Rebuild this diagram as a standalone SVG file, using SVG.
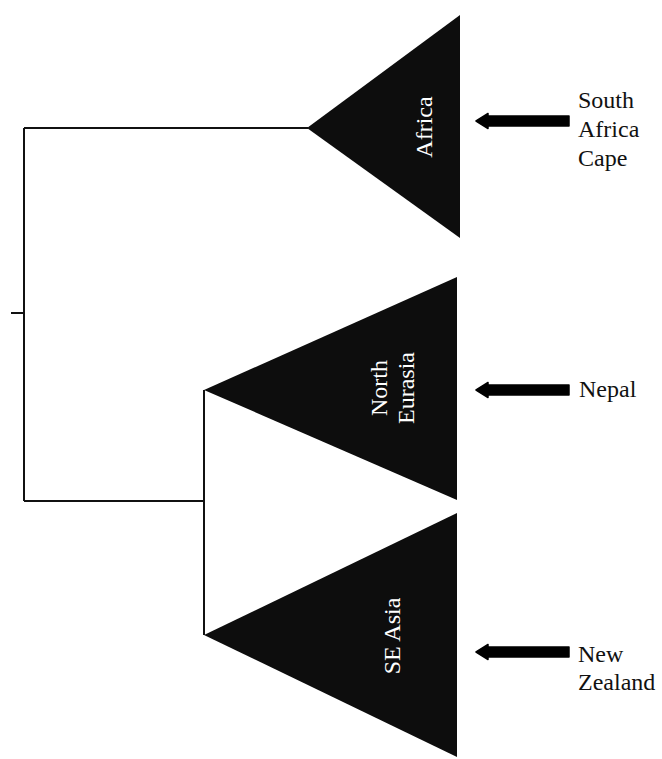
<svg xmlns="http://www.w3.org/2000/svg" width="662" height="759" viewBox="0 0 662 759">
<defs>
<style>
.edge{fill:none;stroke:#111;stroke-width:2}
.clade{fill:#0d0d0d}
.inner{font-family:"Liberation Serif","Times New Roman",serif;font-size:24px;fill:#fff;text-anchor:middle}
.lbl{font-family:"Liberation Serif","Times New Roman",serif;font-size:24px;fill:#111}
.arrow{fill:#000;stroke:#000;stroke-width:1.5;stroke-linejoin:round}
</style>
</defs>
<rect width="662" height="759" fill="#fff"/>
<g id="connectors">
<path class="edge" d="M11,313 H24 M24,128 V501 M24,128 H308 M24,501 H204 M204,390 V635"/>
</g>
<g id="africa">
<polygon class="clade" points="307,128 460,15 460,238"/>
<text class="inner" font-family="Liberation Serif, serif" transform="translate(432,127) rotate(-90)">Africa</text>
</g>
<g id="north-eurasia">
<polygon class="clade" points="204,390 457,277 457,500"/>
<text class="inner" font-family="Liberation Serif, serif" transform="translate(387,388) rotate(-90)">North</text>
<text class="inner" font-family="Liberation Serif, serif" transform="translate(414,388) rotate(-90)">Eurasia</text>
</g>
<g id="se-asia">
<polygon class="clade" points="204,635 457,513 457,757"/>
<text class="inner" font-family="Liberation Serif, serif" transform="translate(400,636) rotate(-90)">SE Asia</text>
</g>
<g id="arrow-sa">
<path class="arrow" d="M476,121 L488,113.5 V116 H569 V126 H488 V128.5 Z"/>
<text class="lbl" font-family="Liberation Serif, serif" x="578" y="108">South</text>
<text class="lbl" font-family="Liberation Serif, serif" x="578" y="137">Africa</text>
<text class="lbl" font-family="Liberation Serif, serif" x="578" y="166">Cape</text>
</g>
<g id="arrow-nepal">
<path class="arrow" d="M476,390 L488,382.5 V385 H569 V395 H488 V397.5 Z"/>
<text class="lbl" font-family="Liberation Serif, serif" x="579" y="397">Nepal</text>
</g>
<g id="arrow-nz">
<path class="arrow" d="M476,652 L488,644.5 V647 H569 V657 H488 V659.5 Z"/>
<text class="lbl" font-family="Liberation Serif, serif" x="578" y="662">New</text>
<text class="lbl" font-family="Liberation Serif, serif" x="578" y="690">Zealand</text>
</g>
</svg>
